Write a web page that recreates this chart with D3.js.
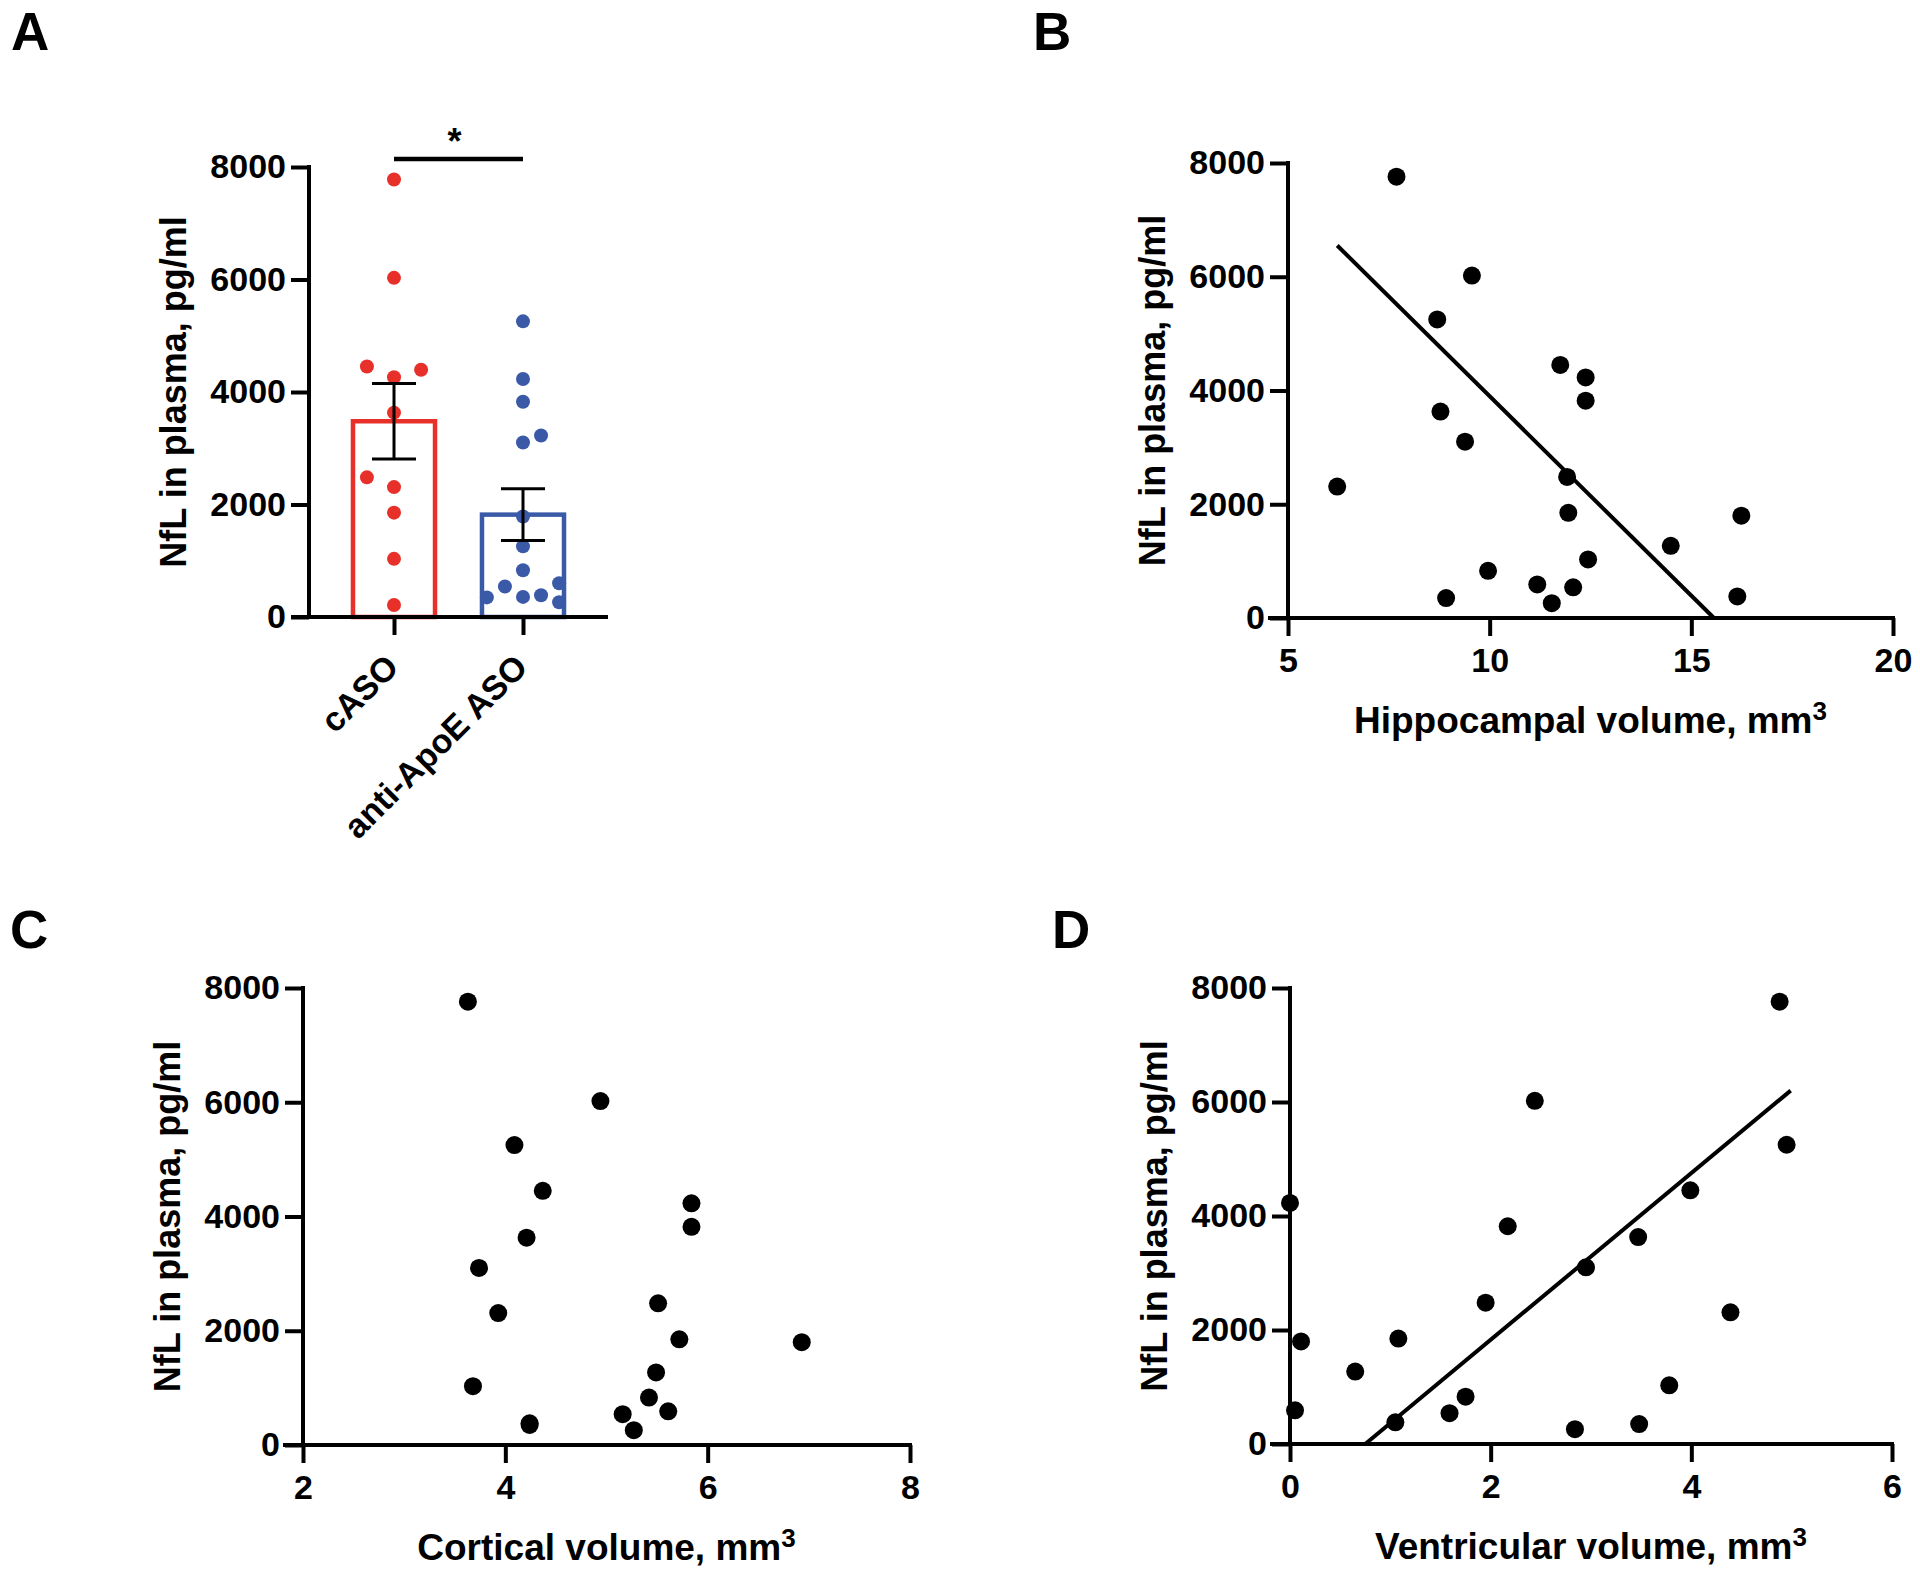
<!DOCTYPE html>
<html><head><meta charset="utf-8">
<script src="https://cdn.jsdelivr.net/npm/d3@7"></script>
<style>
body{margin:0;background:#fff}
svg{display:block}
text{font-family:"Liberation Sans",Arial,Helvetica,sans-serif;font-weight:bold;fill:#000}
</style>
</head><body><svg id="c" width="1920" height="1573"></svg>
<script>
// ---------- data ----------
const groups = ["cASO", "anti-ApoE ASO"];
const groupMeans = [3480, 1820];
const groupSems = [670, 460];
const casoValues = [7778, 6029, 4454, 4261, 4396, 3633, 2483, 2309, 1855, 1034, 213];
const casoJitter = [0, 0, -0.21, 0, 0.21, 0, -0.21, 0, 0, 0, 0];
const antiValues = [5256, 4232, 3826, 3227, 3101, 1787, 1256, 831, 541, 348, 357, 386, 599, 261];
const antiJitter = [0, 0, 0, 0.14, 0, 0, 0, 0, -0.14, -0.28, 0, 0.14, 0.28, 0.28];
const nflTicks = [0, 2000, 4000, 6000, 8000];
const nfl = [7760, 6020, 5250, 4450, 4230, 3820, 3630, 3100, 2310, 2480, 1850, 1800, 1270, 1030, 830, 590, 540, 380, 350, 260];
const hippocampal = [7.69, 9.56, 8.70, 11.75, 12.38, 12.38, 8.78, 9.39, 6.22, 11.92, 11.95, 16.24, 14.49, 12.44, 9.96, 11.18, 12.07, 16.14, 8.92, 11.54];
const cortical = [3.63, 4.94, 4.09, 4.37, 5.84, 5.84, 4.21, 3.74, 3.93, 5.51, 5.72, 6.93, 5.49, 3.68, 5.42, 5.61, 5.16, 4.24, 4.24, 5.27];
const ventricular = [4.88, 2.44, 4.95, 3.99, 0.0, 2.17, 3.47, 2.95, 4.39, 1.95, 1.08, 0.11, 0.65, 3.78, 1.75, 0.05, 1.59, 1.05, 3.48, 2.84];
const hippoTicks = [5, 10, 15, 20];
const cortTicks = [2, 4, 6, 8];
const ventTicks = [0, 2, 4, 6];
const hippoFitX = [6.22, 15.56], hippoFitY = [6550, 0];
const ventFitX = [0.75, 4.99], ventFitY = [0, 6200];
const yTitle = "NfL in plasma, pg/ml";

// ---------- style ----------
const RED = "#e8302a", BLUE = "#3a5aa8";
const TICK = 18, AXW = 4, TICKFS = 34, TITLEFS = 36;
const svg = d3.select("#c");

function styleAxis(g) {
  g.select(".domain").remove();
  g.selectAll(".tick line").attr("stroke", "#000").attr("stroke-width", AXW);
  g.selectAll(".tick text").attr("font-size", TICKFS).attr("fill", "#000");
}

function yAxis(y, x0) {
  const g = svg.append("g").attr("transform", `translate(${x0},0)`)
    .call(d3.axisLeft(y).tickValues(nflTicks).tickSize(TICK).tickPadding(5).tickFormat(d3.format("d")));
  styleAxis(g);
  svg.append("line").attr("x1", x0).attr("x2", x0).attr("y1", y(8000)).attr("y2", y(0))
    .attr("stroke", "#000").attr("stroke-width", AXW).attr("stroke-linecap", "square");
}

function yLabel(y, x0) {
  const cy = (y(0) + y(8000)) / 2;
  svg.append("text").attr("transform", `translate(${x0 - 123},${cy}) rotate(-90)`)
    .attr("text-anchor", "middle").attr("font-size", TITLEFS).text(yTitle);
}

function panelLetter(t, x, y) {
  svg.append("text").attr("x", x).attr("y", y).attr("font-size", 53).text(t);
}

// ---------- Panel A ----------
(function () {
  const y = d3.scaleLinear().domain([0, 8000]).range([617, 167]);
  const x = d3.scalePoint().domain(groups).range([309, 608]).padding(0.659);
  const step = x.step(), bw = step * 0.636;
  const cols = [RED, BLUE];

  svg.append("g").selectAll("rect").data(groups).join("rect")
    .attr("x", d => x(d) - bw / 2).attr("width", bw)
    .attr("y", (d, i) => y(groupMeans[i])).attr("height", (d, i) => y(0) - y(groupMeans[i]))
    .attr("fill", "#fff").attr("stroke", (d, i) => cols[i]).attr("stroke-width", 4.5);

  const pts = casoValues.map((v, i) => ({ g: groups[0], v, j: casoJitter[i], c: RED }))
    .concat(antiValues.map((v, i) => ({ g: groups[1], v, j: antiJitter[i], c: BLUE })));
  svg.append("g").selectAll("circle").data(pts).join("circle")
    .attr("cx", d => x(d.g) + d.j * step).attr("cy", d => y(d.v)).attr("r", 7)
    .attr("fill", d => d.c);

  const eb = svg.append("g").attr("stroke", "#000").attr("stroke-width", 3);
  groups.forEach((gname, i) => {
    const cx = x(gname), hi = y(groupMeans[i] + groupSems[i]), lo = y(groupMeans[i] - groupSems[i]);
    eb.append("line").attr("x1", cx).attr("x2", cx).attr("y1", hi).attr("y2", lo);
    eb.append("line").attr("x1", cx - 22).attr("x2", cx + 22).attr("y1", hi).attr("y2", hi);
    eb.append("line").attr("x1", cx - 22).attr("x2", cx + 22).attr("y1", lo).attr("y2", lo);
  });

  yAxis(y, 309);
  const gx = svg.append("g").attr("transform", `translate(0,${y(0)})`)
    .call(d3.axisBottom(x).tickSize(TICK).tickPadding(0));
  styleAxis(gx);
  gx.selectAll(".tick text").attr("font-size", 34).attr("y", 0).attr("dy", null)
    .attr("text-anchor", "end").attr("transform", "translate(6,52) rotate(-45)");
  svg.append("line").attr("x1", 309 - TICK).attr("x2", 608).attr("y1", y(0)).attr("y2", y(0))
    .attr("stroke", "#000").attr("stroke-width", AXW);

  svg.append("line").attr("x1", x(groups[0])).attr("x2", x(groups[1]))
    .attr("y1", y(8000) - 8).attr("y2", y(8000) - 8).attr("stroke", "#000").attr("stroke-width", 4.5);
  svg.append("text").attr("x", (x(groups[0]) + x(groups[1])) / 2 - 4).attr("y", y(8000) - 13)
    .attr("text-anchor", "middle").attr("font-size", 36).text("*");

  yLabel(y, 309);
  panelLetter("A", 11, 50);
})();

// ---------- scatter panels ----------
function scatter(opt) {
  const x = d3.scaleLinear().domain(opt.xDomain).range(opt.xRange);
  const y = d3.scaleLinear().domain([0, 8000]).range(opt.yRange);
  const x0 = opt.xRange[0];
  yAxis(y, x0);
  const gx = svg.append("g").attr("transform", `translate(0,${y(0)})`)
    .call(d3.axisBottom(x).tickValues(opt.xTicks).tickSize(TICK).tickPadding(12).tickFormat(d3.format("d")));
  styleAxis(gx);
  svg.append("line").attr("x1", x0 - TICK).attr("x2", opt.xRange[1]).attr("y1", y(0)).attr("y2", y(0))
    .attr("stroke", "#000").attr("stroke-width", AXW).attr("stroke-linecap", "square");

  svg.append("g").selectAll("circle").data(opt.xs).join("circle")
    .attr("cx", d => x(d)).attr("cy", (d, i) => y(nfl[i])).attr("r", 9).attr("fill", "#000");

  if (opt.fitX) {
    svg.append("line").attr("x1", x(opt.fitX[0])).attr("x2", x(opt.fitX[1]))
      .attr("y1", y(opt.fitY[0])).attr("y2", y(opt.fitY[1]))
      .attr("stroke", "#000").attr("stroke-width", 4);
  }
  yLabel(y, x0);
  const t = svg.append("text").attr("x", (opt.xRange[0] + opt.xRange[1]) / 2).attr("y", y(0) + 115)
    .attr("text-anchor", "middle").attr("font-size", 37);
  t.append("tspan").text(opt.title);
  t.append("tspan").attr("font-size", 26).attr("dy", -13).text("3");
  panelLetter(opt.letter, opt.lx, opt.ly);
}

scatter({ xs: hippocampal, xDomain: [5, 20], xRange: [1288, 1893], yRange: [618, 163], xTicks: hippoTicks,
  fitX: hippoFitX, fitY: hippoFitY, title: "Hippocampal volume, mm", letter: "B", lx: 1033, ly: 50 });
scatter({ xs: cortical, xDomain: [2, 8], xRange: [303, 910], yRange: [1445, 988], xTicks: cortTicks,
  title: "Cortical volume, mm", letter: "C", lx: 10, ly: 948 });
scatter({ xs: ventricular, xDomain: [0, 6], xRange: [1290, 1892], yRange: [1444, 988], xTicks: ventTicks,
  fitX: ventFitX, fitY: ventFitY, title: "Ventricular volume, mm", letter: "D", lx: 1052, ly: 948 });
</script>
</body></html>
